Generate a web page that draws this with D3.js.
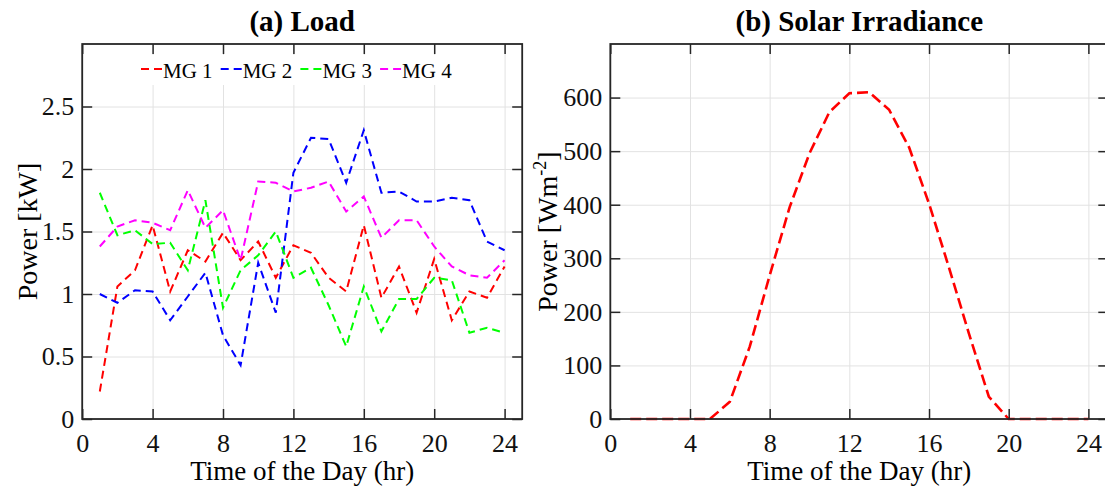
<!DOCTYPE html>
<html>
<head>
<meta charset="utf-8">
<script src="https://cdn.jsdelivr.net/npm/d3@7"></script>
<style>
  body { margin: 0; background: #fff; }
  svg { display: block; font-family: "Liberation Serif", "Times New Roman", serif; }
</style>
</head>
<body>
<svg id="fig" width="1105" height="486"></svg>
<script>
// Hour of the day (1..24)
const hours = [1, 2, 3, 4, 5, 6, 7, 8, 9, 10, 11, 12, 13, 14, 15, 16, 17, 18, 19, 20, 21, 22, 23, 24];

// Hourly load of each microgrid [kW]
const mg1 = [0.22, 1.06, 1.19, 1.55, 1.02, 1.35, 1.26, 1.49, 1.27, 1.42, 1.13, 1.39, 1.33, 1.13, 1.02, 1.55, 0.97, 1.22, 0.85, 1.28, 0.79, 1.02, 0.97, 1.22];
const mg2 = [1.00, 0.93, 1.03, 1.02, 0.79, 0.98, 1.17, 0.67, 0.43, 1.25, 0.85, 1.97, 2.25, 2.24, 1.89, 2.31, 1.81, 1.82, 1.74, 1.74, 1.77, 1.75, 1.42, 1.35];
const mg3 = [1.81, 1.47, 1.51, 1.40, 1.41, 1.19, 1.75, 0.89, 1.19, 1.31, 1.50, 1.13, 1.21, 0.91, 0.58, 1.06, 0.70, 0.96, 0.96, 1.13, 1.11, 0.69, 0.73, 0.69];
const mg4 = [1.38, 1.54, 1.59, 1.57, 1.51, 1.83, 1.53, 1.67, 1.27, 1.90, 1.89, 1.82, 1.85, 1.90, 1.66, 1.78, 1.45, 1.59, 1.59, 1.38, 1.22, 1.15, 1.13, 1.27];

// Hourly solar irradiance [W/m^2]
const solar = [0, 0, 0, 0, 0, 32, 135, 268, 395, 496, 573, 608, 610, 577, 507, 402, 283, 160, 42, 0, 0, 0, 0, 0];

const seriesNames = ["MG 1", "MG 2", "MG 3", "MG 4"];
const seriesColors = ["#ff0000", "#0000ff", "#00ff00", "#ff00ff"];

// Tick values
const hourTicks = [0, 4, 8, 12, 16, 20, 24];
const loadTicks = [0, 0.5, 1, 1.5, 2, 2.5];
const solarTicks = [0, 100, 200, 300, 400, 500, 600];

const svg = d3.select("#fig");
const INK = "#262626";

function drawPanel(cfg) {
  const { left, top, width, height } = cfg;
  const g = svg.append("g").attr("transform", `translate(${left},${top})`);

  const x = d3.scaleLinear().domain([0, 25]).range([0, width]);
  const y = d3.scaleLinear().domain(cfg.yDomain).range([height, 0]);

  // grid
  const gx = g.append("g").attr("transform", `translate(0,${height})`)
    .call(d3.axisBottom(x).tickValues(hourTicks).tickSize(-height).tickFormat(""));
  const gy = g.append("g")
    .call(d3.axisLeft(y).tickValues(cfg.yTicks).tickSize(-width).tickFormat(""));
  [gx, gy].forEach(a => {
    a.select(".domain").remove();
    a.selectAll("line").attr("stroke", "#e2e2e2").attr("stroke-width", 1);
  });

  // optional legend background sits above grid, under nothing else
  if (cfg.beforeLines) cfg.beforeLines(g, x, y);

  // data lines
  const line = d3.line().x((d, i) => x(hours[i])).y(d => y(d));
  cfg.series.forEach(s => {
    g.append("path")
      .datum(s.values)
      .attr("fill", "none")
      .attr("stroke", s.color)
      .attr("stroke-width", cfg.lineWidth)
      .attr("stroke-dasharray", cfg.dash)
      .attr("d", line);
  });

  // ticks on all four sides, pointing inward
  const tk = 10;
  const bottom = g.append("g").attr("transform", `translate(0,${height})`)
    .call(d3.axisBottom(x).tickValues(hourTicks).tickSize(-tk).tickPadding(15).tickFormat(d => String(d)));
  const topAx = g.append("g")
    .call(d3.axisTop(x).tickValues(hourTicks).tickSize(-tk).tickFormat(""));
  const leftAx = g.append("g")
    .call(d3.axisLeft(y).tickValues(cfg.yTicks).tickSize(-tk).tickPadding(8).tickFormat(d => String(d)));
  const rightAx = g.append("g").attr("transform", `translate(${width},0)`)
    .call(d3.axisRight(y).tickValues(cfg.yTicks).tickSize(-tk).tickFormat(""));
  [bottom, topAx, leftAx, rightAx].forEach(a => {
    a.select(".domain").remove();
    a.selectAll("line").attr("stroke", INK).attr("stroke-width", 1.5);
    a.selectAll("text").attr("fill", "#111").attr("font-size", 26)
      .attr("font-family", "Liberation Serif, Times New Roman, serif");
  });

  // axes box
  g.append("rect")
    .attr("x", 0).attr("y", 0).attr("width", width).attr("height", height)
    .attr("fill", "none").attr("stroke", INK).attr("stroke-width", 1.8);

  // title
  g.append("text")
    .attr("x", width / 2).attr("y", -13)
    .attr("text-anchor", "middle")
    .attr("font-weight", "bold").attr("font-size", 29).attr("fill", "#000")
    .text(cfg.title);

  // x label
  g.append("text")
    .attr("x", width / 2).attr("y", height + 61)
    .attr("text-anchor", "middle")
    .attr("font-size", 27).attr("fill", "#000")
    .text("Time of the Day (hr)");

  // y label
  const yl = g.append("text")
    .attr("transform", `translate(${cfg.yLabelX},${height / 2}) rotate(-90)`)
    .attr("text-anchor", "middle")
    .attr("font-size", 28).attr("fill", "#000");
  cfg.yLabel(yl);

  return { g, x, y };
}

// (a) Load
drawPanel({
  left: 82.2, top: 44, width: 440, height: 375,
  yDomain: [0, 3], yTicks: loadTicks,
  title: "(a) Load",
  yLabelX: 37 - 82.2,
  yLabel: t => t.text("Power [kW]"),
  lineWidth: 2, dash: "8 5",
  series: [mg1, mg2, mg3, mg4].map((v, i) => ({ values: v, color: seriesColors[i] })),
  beforeLines: null
});

// legend for (a), drawn on a white patch over the grid
const legend = svg.append("g").attr("transform", "translate(0,0)");
legend.append("rect")
  .attr("x", 135).attr("y", 55).attr("width", 326).attr("height", 30)
  .attr("fill", "#fff");
seriesNames.forEach((name, i) => {
  const x0 = 141 + i * 79.7;
  legend.append("line")
    .attr("x1", x0).attr("x2", x0 + 21).attr("y1", 69).attr("y2", 69)
    .attr("stroke", seriesColors[i]).attr("stroke-width", 2)
    .attr("stroke-dasharray", "8 5");
  legend.append("text")
    .attr("x", x0 + 22).attr("y", 77.5)
    .attr("font-size", 21).attr("fill", "#000")
    .text(name);
});

// (b) Solar Irradiance
drawPanel({
  left: 610.3, top: 44, width: 498, height: 375,
  yDomain: [0, 700], yTicks: solarTicks,
  title: "(b) Solar Irradiance",
  yLabelX: 557 - 610.3,
  yLabel: t => {
    t.append("tspan").text("Power [Wm");
    t.append("tspan").attr("dy", -11).attr("font-size", 18).text("-2");
    t.append("tspan").attr("dy", 11).text("]");
  },
  lineWidth: 2.6, dash: "11 5",
  series: [{ values: solar, color: "#ff0000" }]
});
</script>
</body>
</html>
